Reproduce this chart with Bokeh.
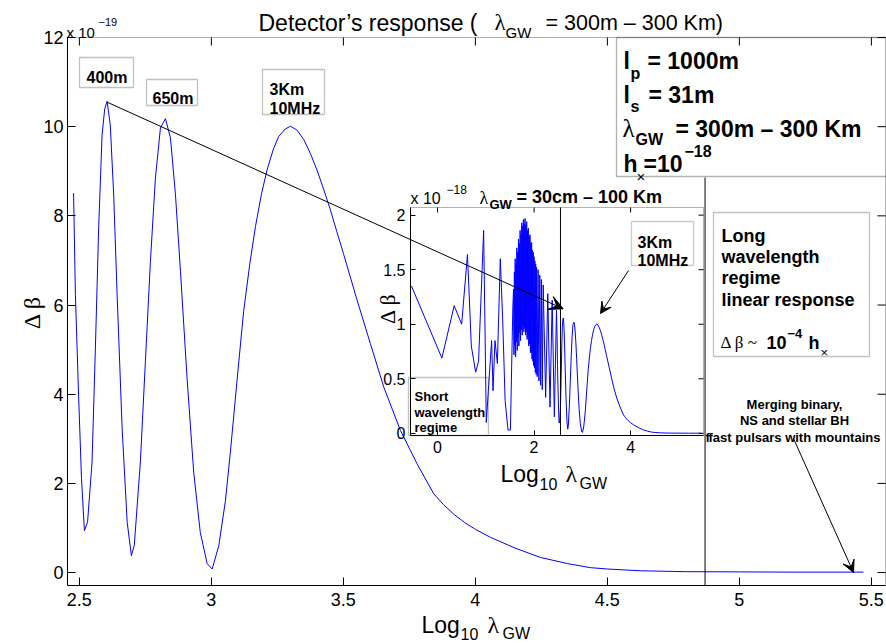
import math
from bokeh.plotting import figure
from bokeh.models import (Range1d, LinearAxis, FixedTicker, Label, BoxAnnotation,
                          Arrow, VeeHead)
from bokeh.embed import file_html
from bokeh.resources import INLINE

# ---------------- data ----------------
# main curve: log10(lambda_GW) vs delta beta in units of 1e-19
main_log_lambda = [2.478, 2.485, 2.497, 2.508, 2.519, 2.531, 2.548, 2.561, 2.573, 2.586,
                   2.596, 2.605, 2.617, 2.630, 2.643, 2.662, 2.681, 2.697, 2.708, 2.731,
                   2.750, 2.769, 2.788, 2.807, 2.826, 2.845, 2.864, 2.883, 2.908, 2.933,
                   2.958, 2.984, 3.003, 3.028, 3.053, 3.072, 3.097, 3.122, 3.145, 3.167,
                   3.190, 3.211, 3.235, 3.255, 3.280, 3.300, 3.325, 3.350, 3.375, 3.400,
                   3.425, 3.451, 3.475, 3.500, 3.552, 3.602, 3.653, 3.716, 3.779, 3.842,
                   3.880, 3.920, 3.960, 4.000, 4.057, 4.150, 4.246, 4.350, 4.436, 4.500,
                   4.625, 4.800, 5.000, 5.200, 5.470]
main_dbeta_e19 = [8.51, 6.22, 3.98, 2.11, 0.94, 1.13, 2.48, 5.10, 7.72, 9.82,
                  10.40, 10.57, 10.04, 8.47, 6.22, 3.23, 1.13, 0.38, 0.61, 2.48,
                  4.73, 6.97, 8.85, 9.97, 10.18, 9.75, 8.47, 6.75, 4.35, 2.25,
                  0.90, 0.20, 0.08, 0.60, 1.60, 2.70, 4.30, 5.85, 6.90, 7.76,
                  8.50, 9.03, 9.50, 9.78, 9.95, 10.01, 9.92, 9.71, 9.40, 9.03,
                  8.60, 8.13, 7.65, 7.16, 6.11, 5.14, 4.16, 3.19, 2.44, 1.77,
                  1.52, 1.30, 1.12, 0.97, 0.79, 0.55, 0.34, 0.20, 0.11, 0.08,
                  0.04, 0.02, 0.015, 0.01, 0.01]

# inset: short-wavelength part (units of 1e-18); beyond 2.47 it is the main curve
inset_log_lambda_short = [-0.54, 0.09, 0.345, 0.50, 0.62, 0.70, 0.79, 0.85, 0.955, 1.01,
                          1.12, 1.15, 1.19, 1.24, 1.30, 1.35, 1.40, 1.46, 1.51, 1.56,
                          1.575, 1.584, 1.592, 1.601, 1.609, 1.618, 1.626, 1.635, 1.643, 1.652,
                          1.660, 1.669, 1.677, 1.686, 1.694, 1.703, 1.711, 1.720, 1.728, 1.737,
                          1.745, 1.754, 1.762, 1.771, 1.779, 1.788, 1.796, 1.805, 1.813, 1.822,
                          1.830, 1.839, 1.847, 1.856, 1.864, 1.873, 1.881, 1.890, 1.898, 1.907,
                          1.915, 1.924, 1.932, 1.941, 1.949, 1.958, 1.966, 1.975, 1.983, 1.992,
                          2.000, 2.009, 2.017, 2.026, 2.034, 2.043, 2.051,
                          2.065, 2.083, 2.100, 2.118, 2.135, 2.152, 2.170, 2.189, 2.240, 2.284,
                          2.330, 2.375, 2.420, 2.464]
inset_dbeta_short_e18 = [1.35, 0.69, 1.17, 1.00, 1.64, 0.80, 0.56, 0.66, 1.86, 0.10,
                         0.85, 0.39, 0.85, 0.64, 1.60, 1.04, 0.30, 0.03, 0.03, 1.16,
                         1.32, 0.72, 1.48, 0.80, 1.60, 0.70, 1.55, 0.84, 1.70, 0.76,
                         1.66, 0.88, 1.78, 0.80, 1.74, 0.92, 1.86, 0.85, 1.82, 0.95,
                         1.93, 0.90, 1.90, 0.98, 1.96, 0.93, 1.92, 0.96, 1.97, 0.90,
                         1.91, 0.93, 1.94, 0.86, 1.86, 0.88, 1.88, 0.80, 1.80, 0.82,
                         1.82, 0.74, 1.74, 0.74, 1.75, 0.68, 1.68, 0.66, 1.66, 0.62,
                         1.62, 0.60, 1.58, 0.56, 1.55, 0.54, 1.52,
                         0.52, 1.50, 0.48, 1.45, 0.44, 1.41, 0.40, 1.36, 0.33, 1.28,
                         0.24, 1.22, 0.15, 1.13]

main_xticks = [2.5, 3, 3.5, 4, 4.5, 5, 5.5]
main_xtick_labels = ["2.5", "3", "3.5", "4", "4.5", "5", "5.5"]
main_yticks = [0, 2, 4, 6, 8, 10, 12]
main_ytick_labels = ["0", "2", "4", "6", "8", "10", "12"]
inset_xticks = [0, 2, 4]
inset_xtick_labels = ["0", "2", "4"]
inset_yticks = [0, 0.5, 1, 1.5, 2]
inset_ytick_labels = ["0", "0.5", "1", "1.5", "2"]

long_wl_divider = 4.87     # main plot vertical divider (log10 lambda)
inset_divider = 2.547      # inset vertical divider (log10 lambda)

# ---------------- layout constants (page pixels) ----------------
SANS = "Liberation Sans"
SERIF = "Liberation Serif"
BLUE = "#0000ff"
PL, PT = 0, 0               # canvas origin on the page
W, H = 886, 643             # canvas
PR, PB = PL + W, PT + H
# main axes box
M_FL, M_FT, M_FR, M_FB = 67, 37, 885, 585
M_X0, M_X1 = 2.455, 2.455 + (885 - 67) / 264.0
M_Y0, M_Y1 = -0.29, 12.0
# inset axes box
I_FL, I_FT, I_FR, I_FB = 410, 207, 703, 435
I_X0, I_X1, I_Y0, I_Y1 = -0.56, 5.51, -0.02, 2.07


def full_range_x(d0, d1, p0, p1):
    k = (d1 - d0) / (p1 - p0)
    return Range1d(d0 + (PL - p0) * k, d0 + (PR - p0) * k)


def full_range_y(d0, d1, pbot, ptop):
    k = (d1 - d0) / (pbot - ptop)
    return Range1d(d0 - (PB - pbot) * k, d0 + (pbot - PT) * k)


p = figure(width=W, height=H, min_border=0,
           x_range=full_range_x(M_X0, M_X1, M_FL, M_FR),
           y_range=full_range_y(M_Y0, M_Y1, M_FB, M_FT),
           extra_x_ranges={"inset": full_range_x(I_X0, I_X1, I_FL, I_FR),
                           "page": Range1d(PL, PR)},
           extra_y_ranges={"inset": full_range_y(I_Y0, I_Y1, I_FB, I_FT),
                           "page": Range1d(PB, PT)},
           output_backend="svg", toolbar_location=None,
           background_fill_color="white", border_fill_color="white",
           outline_line_color=None)
p.grid.visible = False


def style_axis(ax, ticks, labels, size, tick_in, standoff, fixed, bounds):
    ax.ticker = FixedTicker(ticks=ticks)
    ax.major_label_overrides = {t: s for t, s in zip(ticks, labels)}
    ax.fixed_location = fixed
    ax.bounds = bounds
    ax.major_tick_in = tick_in
    ax.major_tick_out = 0
    ax.minor_tick_in = 0
    ax.minor_tick_out = 0
    ax.axis_line_color = "black"
    ax.major_tick_line_color = "black"
    ax.major_label_text_font = SANS
    ax.major_label_text_color = "black"
    ax.major_label_standoff = standoff
    ax.major_label_text_font_size = f"{size}px"


# main axes (drawn at the box edges)
style_axis(p.xaxis[0], main_xticks, main_xtick_labels, 18, 8, 7, M_Y0, (M_X0, M_X1))
style_axis(p.yaxis[0], main_yticks, main_ytick_labels, 18, 8, 4, M_X0, (M_Y0, M_Y1))
p.add_layout(BoxAnnotation(left=M_X0, right=M_X1, bottom=M_Y0, top=M_Y1,
                           fill_color=None, fill_alpha=0, line_color="black", line_width=1,
                           level="underlay"))
msx = (M_X1 - M_X0) / (M_FR - M_FL)
msy = (M_Y1 - M_Y0) / (M_FB - M_FT)
p.segment(x0=main_xticks, y0=[M_Y1] * len(main_xticks), x1=main_xticks,
          y1=[M_Y1 - 8 * msy] * len(main_xticks), line_color="black", line_width=1)
p.segment(x0=[M_X1] * len(main_yticks), y0=main_yticks,
          x1=[M_X1 - 8 * msx] * len(main_yticks), y1=main_yticks,
          line_color="black", line_width=1)
p.line(main_log_lambda, main_dbeta_e19, line_color=BLUE, line_width=1)
p.segment(x0=[long_wl_divider], y0=[M_Y0], x1=[long_wl_divider],
          y1=[M_Y0 + (M_FB - 177) * msy], line_color="black", line_width=1)

# inset axes
ixa = LinearAxis(x_range_name="inset", y_range_name="inset")
p.add_layout(ixa, "below")
style_axis(ixa, inset_xticks, inset_xtick_labels, 16, 5, 5, I_Y0, (I_X0, I_X1))
iya = LinearAxis(x_range_name="inset", y_range_name="inset")
p.add_layout(iya, "left")
style_axis(iya, inset_yticks, inset_ytick_labels, 16, 5, 5, I_X0, (I_Y0, I_Y1))
p.add_layout(BoxAnnotation(left=I_X0, right=I_X1, bottom=I_Y0, top=I_Y1,
                           x_range_name="inset", y_range_name="inset",
                           fill_color=None, fill_alpha=0, line_color="black", line_width=1,
                           level="underlay"))
isx = (I_X1 - I_X0) / (I_FR - I_FL)
isy = (I_Y1 - I_Y0) / (I_FB - I_FT)
p.segment(x0=inset_xticks, y0=[I_Y1] * len(inset_xticks), x1=inset_xticks,
          y1=[I_Y1 - 5 * isy] * len(inset_xticks), line_color="black", line_width=1,
          x_range_name="inset", y_range_name="inset")
p.segment(x0=[I_X1] * len(inset_yticks), y0=inset_yticks,
          x1=[I_X1 - 5 * isx] * len(inset_yticks), y1=inset_yticks,
          line_color="black", line_width=1, x_range_name="inset", y_range_name="inset")
inset_x = inset_log_lambda_short + main_log_lambda
inset_y = inset_dbeta_short_e18 + [v / 10.0 for v in main_dbeta_e19]
p.line(inset_x, inset_y, line_color=BLUE, line_width=1,
       x_range_name="inset", y_range_name="inset")
p.segment(x0=[inset_divider], y0=[I_Y0], x1=[inset_divider], y1=[I_Y1],
          line_color="black", line_width=1, x_range_name="inset", y_range_name="inset")


# ---------------- annotations in page pixel coordinates ----------------
def lab(px, py, text, size, bold=False, font=SANS, align="left",
        baseline="alphabetic", angle=0.0):
    p.add_layout(Label(x=px, y=py, x_range_name="page", y_range_name="page",
                       text=text, text_font=font, text_font_size=f"{size}px",
                       text_font_style="bold" if bold else "normal",
                       text_color="black", text_align=align,
                       text_baseline=baseline, angle=angle))


def box(px0, py0, px1, py1, color="#333333"):
    p.add_layout(BoxAnnotation(left=px0, right=px1, top=py0, bottom=py1,
                               x_range_name="page", y_range_name="page",
                               fill_color=None, fill_alpha=0, line_color=color,
                               line_width=1.3))


def arrow(px0, py0, px1, py1, size=12):
    p.add_layout(Arrow(end=VeeHead(size=size, fill_color="black", line_color="black"),
                       x_start=px0, y_start=py0, x_end=px1, y_end=py1,
                       x_range_name="page", y_range_name="page",
                       line_color="black", line_width=1))


# titles and axis labels of the main plot
lab(66, 32, "x 10", 15)
lab(98, 21, "−19", 11)
lab(258, 22, "Detector’s response (", 23)
lab(494, 22, "λ", 23, font=SERIF)
lab(505, 32, "GW", 15)
lab(545, 22, "= 300m – 300 Km)", 21.5)
lab(421, 624, "Log", 23)
lab(460, 633, "10", 16)
lab(487, 624, "λ", 24, font=SERIF)
lab(502, 633, "GW", 16)
lab(31, 312, "Δ β", 24, font=SERIF, align="center", baseline="middle", angle=math.pi / 2)

# peak boxes
box(79, 57, 133, 87)
lab(86, 77, "400m", 16, bold=True)
box(146, 79, 197, 105)
lab(152, 98, "650m", 16, bold=True)
box(262, 69, 324, 114)
lab(269, 89, "3Km", 16, bold=True)
lab(269, 108, "10MHz", 16, bold=True)

# parameter box
box(616, 37, 886, 176, color="black")
lab(623, 60, "l", 23, bold=True)
lab(630, 73, "p", 16, bold=True)
lab(647, 60, "= 1000m", 23, bold=True)
lab(623, 94, "l", 23, bold=True)
lab(630, 106, "s", 16, bold=True)
lab(648, 94, "= 31m", 23, bold=True)
lab(622, 128, "λ", 25, font=SERIF)
lab(635, 139, "GW", 16, bold=True)
lab(675, 128, "= 300m – 300 Km", 23, bold=True)
lab(623, 163, "h", 23, bold=True)
lab(636, 176, "×", 15)
lab(643, 163, "=10", 23, bold=True)
lab(684, 150, "−18", 16, bold=True)

# long wavelength box
box(713, 212, 869, 356)
lab(721, 235, "Long", 18, bold=True)
lab(721, 256, "wavelength", 18, bold=True)
lab(721, 277, "regime", 18, bold=True)
lab(721, 299, "linear response", 18, bold=True)
lab(720, 342, "Δ β ~", 17, font=SERIF)
lab(766, 342, "10", 18, bold=True)
lab(787, 333, "−4", 13, bold=True)
lab(808, 342, "h", 18, bold=True)
lab(820, 352, "×", 13)

# merging binary note
lab(794, 404, "Merging binary,", 13, bold=True, align="center")
lab(794, 420, "NS and stellar BH", 13, bold=True, align="center")
lab(794, 437, "fast pulsars with mountains", 13, bold=True, align="center")
arrow(793, 438, 853, 572, size=12)

# inset decorations
lab(410, 198, "x 10", 16)
lab(446, 189, "−18", 12)
lab(479, 197, "λ", 18, font=SERIF)
lab(489, 204, "GW", 13, bold=True)
lab(516, 196, "= 30cm – 100 Km", 18, bold=True)
lab(387, 308, "Δ β", 22, font=SERIF, align="center", baseline="middle", angle=math.pi / 2)
lab(500, 473, "Log", 23)
lab(539, 483, "10", 16)
lab(565, 473, "λ", 24, font=SERIF)
lab(579, 483, "GW", 16)
lab(705, 437, "f", 13, bold=True)
box(631, 221, 693, 265, color="#555555")
lab(637, 242, "3Km", 16, bold=True)
lab(637, 260, "10MHz", 16, bold=True)
box(408, 377, 488, 435, color="#333333")
lab(414, 396, "Short", 13, bold=True)
lab(414, 412, "wavelength", 13, bold=True)
lab(414, 427, "regime", 13, bold=True)
arrow(628, 270, 600, 313, size=11)

# arrow from the first main peak into the inset
arrow(106.7, 101.7, 562.7, 308.3, size=14)

open("out.html", "w").write(file_html(p, INLINE))
